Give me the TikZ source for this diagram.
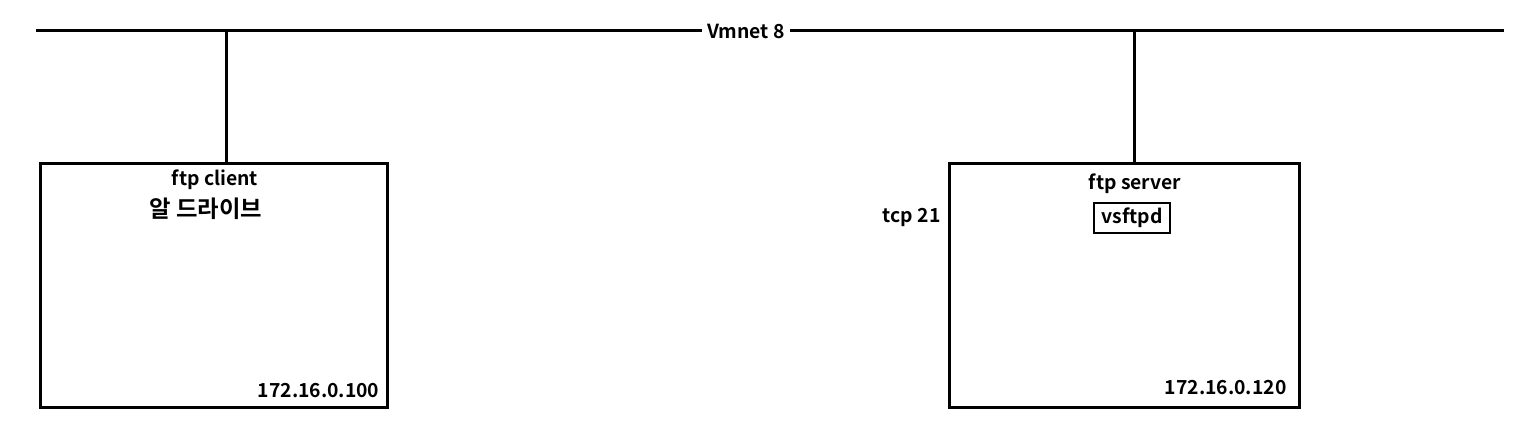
\documentclass[tikz,border=0pt]{standalone}
\usepackage{fontspec}
\setmainfont{Noto Sans CJK KR}[BoldFont={Noto Sans CJK KR Bold}]
\begin{document}
\begin{tikzpicture}[x=0.75pt,y=-0.75pt,
  wire/.style={line width=2.25pt},
  hostbox/.style={draw,line width=2.25pt,minimum width=347*0.75pt,minimum height=244*0.75pt,inner sep=0pt},
  lbl/.style={font=\bfseries\fontsize{14.5}{16}\selectfont,inner sep=1pt},
  kolbl/.style={font=\bfseries\fontsize{17.5}{19}\selectfont,inner sep=1pt},
  svc/.style={draw,line width=1.8pt,font=\bfseries\fontsize{14.5}{16}\selectfont,inner sep=2pt,minimum width=76*0.75pt,minimum height=30*0.75pt}]
\useasboundingbox (0,0) rectangle (1518,448);
\coordinate (wl) at (36,31);
\coordinate (wm) at (944.5,31);
\coordinate (wr) at (1504,31);
\draw[wire] (wl) -- (wm);
\draw[wire] (wm) -- (wr);
\node[lbl,fill=white,inner xsep=4pt] (vm) at (746,31) {Vmnet 8};
\node[hostbox,anchor=north west] (client) at (39,162) {};
\node[hostbox,anchor=north west,minimum width=350*0.75pt] (server) at (948,162) {};
\coordinate (ctap) at (226,31);
\coordinate (stap) at (1134,31);
\draw[wire] (ctap) -- (ctap |- client.north);
\draw[wire] (stap) -- (stap |- server.north);
\node[lbl] (cname) at (215,180) {ftp client};
\node[kolbl] (cko) at (206,209) {알 드라이브};
\node[lbl,anchor=east] (cip) at (381,391) {172.16.0.100};
\node[lbl] (sname) at (1135,184) {ftp server};
\node[svc] (vsftpd) at (1132,218) {vsftpd};
\node[lbl,anchor=east] (tcp) at (942,217) {tcp 21};
\node[lbl,anchor=east] (sip) at (1288,388) {172.16.0.120};
\end{tikzpicture}
\end{document}
